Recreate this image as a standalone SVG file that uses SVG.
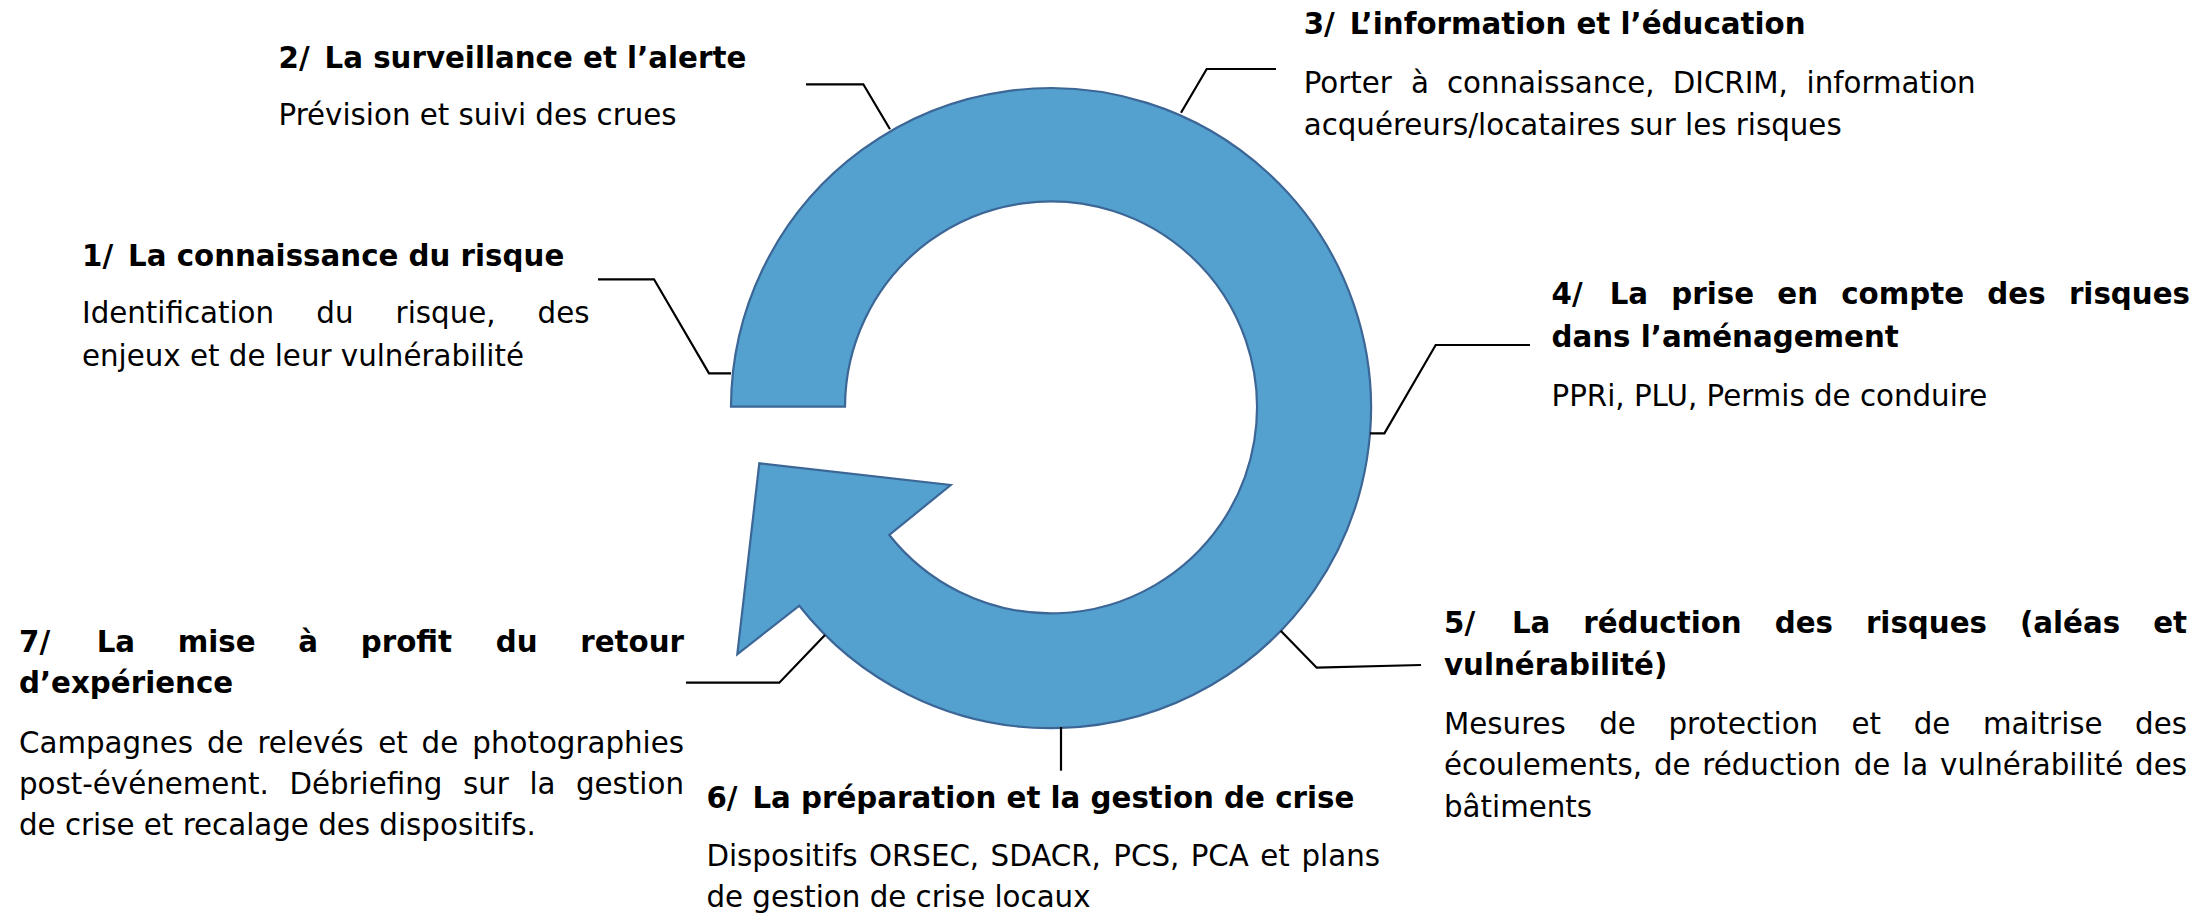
<svg xmlns="http://www.w3.org/2000/svg" width="2201" height="918" viewBox="0 0 2201 918">
<style>
text{font-family:"DejaVu Sans","Verdana",sans-serif;font-size:29.3px;fill:#000}
.b{font-weight:bold}
.e{text-anchor:end}
.ring{fill:#54a1cf;stroke:#3b6696;stroke-width:2.2;stroke-linejoin:miter}
.conn{fill:none;stroke:#000;stroke-width:2.2}
</style>
<rect width="2201" height="918" fill="#fff"/>
<g id="cycle-arrow">
<path class="ring" d="M 731,406.7 A 320,320 0 1 1 799.3,605.7 L 737.3,654.3 L 759.3,463.3 L 950.7,485 L 889.3,535 A 206,206 0 1 0 845,406.7 Z"/>
</g>
<g id="connectors">
<polyline class="conn" points="598,279.3 654,279.3 709,373.4 731,373.4"/>
<polyline class="conn" points="806,84.3 863.3,84.3 890,129.3"/>
<polyline class="conn" points="1181,112.7 1206.7,69 1276,69"/>
<polyline class="conn" points="1370,433.3 1384.4,433.3 1435.7,345 1530,345"/>
<polyline class="conn" points="1280.7,630.7 1316.7,667.7 1421,665"/>
<polyline class="conn" points="1061,727 1061,770.7"/>
<polyline class="conn" points="825,635 779.3,682.7 686,682.7"/>
</g>
<g id="step1">
<text class="b" y="265.7"><tspan x="82">1/</tspan><tspan x="128">La connaissance du risque</tspan></text>
<text y="323.3"><tspan x="82">Identification</tspan><tspan x="316.3">du</tspan><tspan x="395.6">risque,</tspan><tspan x="589.5" class="e">des</tspan></text>
<text x="82" y="366">enjeux et de leur vulnérabilité</text>
</g>
<g id="step2">
<text class="b" y="67.7"><tspan x="278.5">2/</tspan><tspan x="324.5">La surveillance et l’alerte</tspan></text>
<text x="278.5" y="125">Prévision et suivi des crues</text>
</g>
<g id="step3">
<text class="b" y="34.3"><tspan x="1303.7">3/</tspan><tspan x="1349.7">L’information et l’éducation</tspan></text>
<text y="93.3"><tspan x="1303.7">Porter</tspan><tspan x="1410.9">à</tspan><tspan x="1446.9">connaissance,</tspan><tspan x="1672.7">DICRIM,</tspan><tspan x="1975.7" class="e">information</tspan></text>
<text x="1303.7" y="135">acquéreurs/locataires sur les risques</text>
</g>
<g id="step4">
<text class="b" y="304"><tspan x="1551.5">4/</tspan><tspan x="1609.7">La</tspan><tspan x="1671.3">prise</tspan><tspan x="1777.3">en</tspan><tspan x="1841.2">compte</tspan><tspan x="1987.3">des</tspan><tspan x="2190" class="e">risques</tspan></text>
<text class="b" x="1551.5" y="346.7">dans l’aménagement</text>
<text x="1551.5" y="406">PPRi, PLU, Permis de conduire</text>
</g>
<g id="step5">
<text class="b" y="633.3"><tspan x="1444">5/</tspan><tspan x="1511.9">La</tspan><tspan x="1583.2">réduction</tspan><tspan x="1774.7">des</tspan><tspan x="1865.9">risques</tspan><tspan x="2019.9">(aléas</tspan><tspan x="2187" class="e">et</tspan></text>
<text class="b" x="1444" y="675">vulnérabilité)</text>
<text y="734"><tspan x="1444">Mesures</tspan><tspan x="1599.2">de</tspan><tspan x="1668.5">protection</tspan><tspan x="1851.5">et</tspan><tspan x="1913.7">de</tspan><tspan x="1983">maitrise</tspan><tspan x="2187" class="e">des</tspan></text>
<text y="775"><tspan x="1444">écoulements,</tspan><tspan x="1653.9">de</tspan><tspan x="1702.3">réduction</tspan><tspan x="1853.7">de</tspan><tspan x="1902.1">la</tspan><tspan x="1940.1">vulnérabilité</tspan><tspan x="2187" class="e">des</tspan></text>
<text x="1444" y="817.3">bâtiments</text>
</g>
<g id="step6">
<text class="b" y="808.3"><tspan x="706.4">6/</tspan><tspan x="752.4">La préparation et la gestion de crise</tspan></text>
<text y="866"><tspan x="706.4">Dispositifs</tspan><tspan x="868.9">ORSEC,</tspan><tspan x="990.6">SDACR,</tspan><tspan x="1113.3">PCS,</tspan><tspan x="1190.7">PCA</tspan><tspan x="1260.3">et</tspan><tspan x="1380" class="e">plans</tspan></text>
<text x="706.4" y="906.7">de gestion de crise locaux</text>
</g>
<g id="step7">
<text class="b" y="651.7"><tspan x="19">7/</tspan><tspan x="96.7">La</tspan><tspan x="177.7">mise</tspan><tspan x="298.3">à</tspan><tspan x="360.8">profit</tspan><tspan x="495.8">du</tspan><tspan x="684" class="e">retour</tspan></text>
<text class="b" x="19" y="693.3">d’expérience</text>
<text y="753.3"><tspan x="19">Campagnes</tspan><tspan x="206.9">de</tspan><tspan x="257.4">relevés</tspan><tspan x="378.2">et</tspan><tspan x="421.6">de</tspan><tspan x="684" class="e">photographies</tspan></text>
<text y="794.3"><tspan x="19">post-événement.</tspan><tspan x="289.4">Débriefing</tspan><tspan x="463">sur</tspan><tspan x="529.4">la</tspan><tspan x="684" class="e">gestion</tspan></text>
<text x="19" y="835">de crise et recalage des dispositifs.</text>
</g>
</svg>
